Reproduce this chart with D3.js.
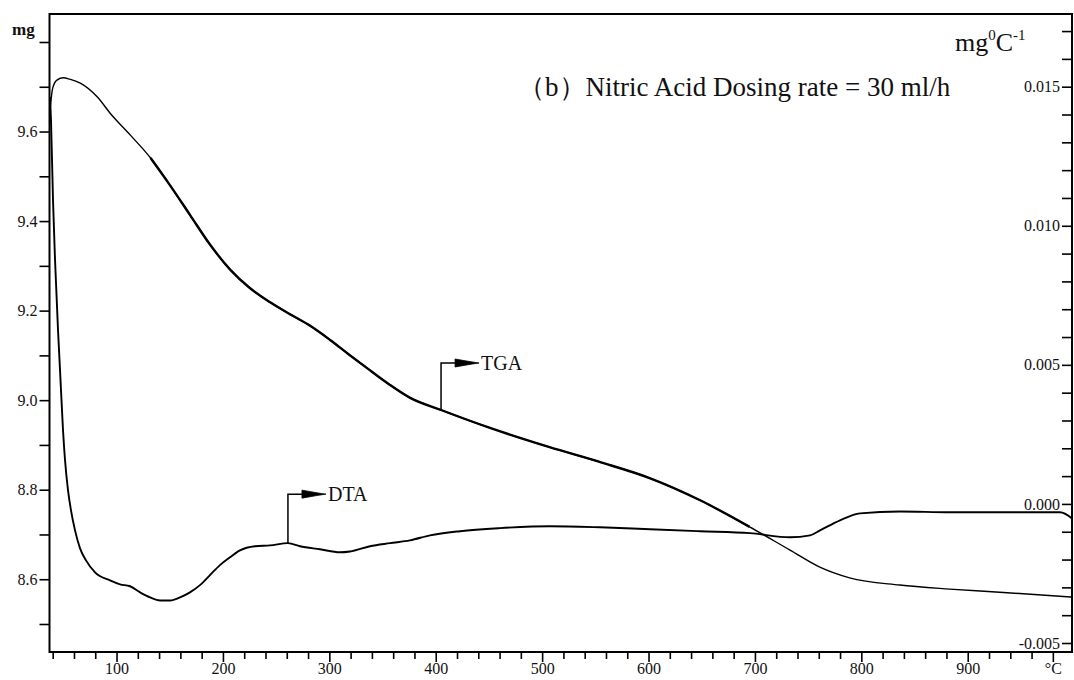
<!DOCTYPE html>
<html>
<head>
<meta charset="utf-8">
<script src="https://cdn.jsdelivr.net/npm/d3@7"></script>
<style>
  html, body { margin: 0; padding: 0; background: #fff; }
  svg { display: block; }
  text { font-family: "Liberation Serif", "Times New Roman", serif; fill: #111; }
</style>
</head>
<body>
<svg id="chart" width="1074" height="680"></svg>
<script>
// Thermogravimetric run: sample mass (TGA, mg) and differential signal (DTA, mg/°C)
const tgaTemp = [37.5, 40, 44, 50, 56, 66, 82, 94, 113, 132, 150, 169, 188, 207, 225, 244, 263, 282,
  301, 319, 338, 357, 376, 405, 451, 507, 554, 601, 648, 695, 733, 761, 789, 836, 883, 930, 998];
const tgaMass = [9.648, 9.697, 9.715, 9.720, 9.717, 9.708, 9.677, 9.641, 9.592, 9.541, 9.481, 9.414,
  9.347, 9.291, 9.251, 9.219, 9.192, 9.166, 9.134, 9.101, 9.067, 9.034, 9.005, 8.978, 8.938, 8.895,
  8.862, 8.826, 8.777, 8.717, 8.665, 8.627, 8.603, 8.587, 8.578, 8.571, 8.560];

const dtaTemp = [37.5, 38.4, 40.3, 42.2, 45.0, 46.9, 49.7, 51.6, 54.4, 57.2, 61.0, 65.7, 71.3, 79.8,
  93.9, 103.3, 112.7, 122.1, 131.5, 140.9, 150.3, 159.7, 169.0, 178.4, 187.8, 197.2, 206.6, 216.0,
  230.1, 244.2, 261.1, 272.4, 291.2, 310.0, 319.4, 338.2, 357.0, 375.8, 394.6, 422.8, 460.4, 507.4,
  554.4, 601.4, 648.4, 695.4, 733.0, 751.8, 761.2, 780.0, 798.8, 836.4, 883.4, 930.4, 986.8, 998];
const dtaSignal = [0.01463, 0.01380, 0.01092, 0.00877, 0.00625, 0.00481, 0.00265, 0.00157, 0.00049,
  -0.00023, -0.00095, -0.00160, -0.00203, -0.00246, -0.00275, -0.00289, -0.00296, -0.00318, -0.00336,
  -0.00347, -0.00347, -0.00336, -0.00318, -0.00292, -0.00256, -0.00220, -0.00192, -0.00167, -0.00152,
  -0.00149, -0.00141, -0.00152, -0.00163, -0.00174, -0.00171, -0.00152, -0.00141, -0.00131, -0.00113,
  -0.00098, -0.00087, -0.00080, -0.00084, -0.00091, -0.00098, -0.00105, -0.00120, -0.00113, -0.00095,
  -0.00059, -0.00034, -0.00027, -0.00030, -0.00030, -0.00030, -0.00052];

// Axis ticks
const tempTicks = d3.range(40, 981, 20);
const tempLabels = [100, 200, 300, 400, 500, 600, 700, 800, 900];
const tempUnit = "°C";
const massTicks = d3.range(85, 99, 1).map(v => v / 10);
const massLabels = [8.6, 8.8, 9.0, 9.2, 9.4, 9.6];
const dtaTicks = d3.range(-5, 18, 1).map(v => v / 1000);
const dtaLabels = [-0.005, 0.000, 0.005, 0.010, 0.015];

// Marker positions for the curve labels
const tgaMarkTemp = 405;
const dtaMarkTemp = 261.1;

const title = "（b）Nitric Acid Dosing rate = 30 ml/h";

const svg = d3.select("#chart");
const L = 49.5, R = 1072, T = 14, B = 652;

const x = d3.scaleLinear().domain([37, 998]).range([L, R]);
const yL = d3.scaleLinear().domain([8.5, 9.8]).range([624, 42]);
const yR = d3.scaleLinear().domain([-0.005, 0.015]).range([643, 86.7]);

const near = (a, b) => Math.abs(a - b) < 1e-9;
const tickFont = 16;

// frame
svg.append("rect")
  .attr("x", L).attr("y", T).attr("width", R - L).attr("height", B - T)
  .attr("fill", "none").attr("stroke", "#000").attr("stroke-width", 2);

// bottom axis
const gx = svg.append("g").attr("transform", `translate(0,${B})`)
  .call(d3.axisBottom(x).tickValues(tempTicks).tickSizeOuter(0).tickSize(9).tickPadding(2)
    .tickFormat(d => tempLabels.includes(d) ? String(d) : (d === 980 ? tempUnit : "")));
gx.select(".domain").remove();
gx.selectAll(".tick line").attr("stroke", "#000").attr("stroke-width", 1.6)
  .attr("y2", d => (tempLabels.includes(d) || d === 980) ? 10 : 7);
gx.selectAll(".tick text").attr("font-size", tickFont).attr("fill", "#111")
  .attr("font-family", "Liberation Serif, serif");

// left axis (mass)
const gl = svg.append("g").attr("transform", `translate(${L},0)`)
  .call(d3.axisLeft(yL).tickValues(massTicks).tickSizeOuter(0).tickSize(10).tickPadding(2)
    .tickFormat(d => massLabels.some(m => near(m, d)) ? d.toFixed(1) : ""));
gl.select(".domain").remove();
gl.selectAll(".tick line").attr("stroke", "#000").attr("stroke-width", 1.6);
gl.selectAll(".tick text").attr("font-size", tickFont).attr("fill", "#111")
  .attr("font-family", "Liberation Serif, serif");

// right axis (DTA), ticks and labels drawn inside the frame
const gr = svg.append("g").attr("transform", `translate(${R},0)`)
  .call(d3.axisLeft(yR).tickValues(dtaTicks).tickSizeOuter(0).tickSize(10).tickPadding(2)
    .tickFormat(d => dtaLabels.some(m => near(m, d)) ? d.toFixed(3) : ""));
gr.select(".domain").remove();
gr.selectAll(".tick line").attr("stroke", "#000").attr("stroke-width", 1.6);
gr.selectAll(".tick text").attr("font-size", tickFont).attr("fill", "#111")
  .attr("font-family", "Liberation Serif, serif");

// unit labels
svg.append("text").attr("x", 12).attr("y", 35)
  .attr("font-size", 17).attr("font-weight", "bold").text("mg");

const unit = svg.append("text").attr("x", 955).attr("y", 51).attr("font-size", 26);
unit.append("tspan").text("mg");
unit.append("tspan").attr("font-size", 15).attr("dy", -11).text("0");
unit.append("tspan").attr("dy", 11).text("C");
unit.append("tspan").attr("font-size", 15).attr("dy", -11).text("-1");

// title
svg.append("text").attr("x", 518).attr("y", 96).attr("font-size", 27)
  .attr("font-family", "Liberation Serif, 'Noto Sans CJK SC', serif").text(title);

// curves
const tgaData = tgaTemp.map((t, i) => [t, tgaMass[i]]);
const dtaData = dtaTemp.map((t, i) => [t, dtaSignal[i]]);
const tgaLine = d3.line().x(d => x(d[0])).y(d => yL(d[1])).curve(d3.curveMonotoneX);
const dtaLine = d3.line().x(d => x(d[0])).y(d => yR(d[1])).curve(d3.curveMonotoneX);

svg.append("path").datum(dtaData)
  .attr("fill", "none").attr("stroke", "#000").attr("stroke-width", 1.9)
  .attr("d", dtaLine);

// TGA: thin overall, heavier through the main loss region
svg.append("path").datum(tgaData)
  .attr("fill", "none").attr("stroke", "#000").attr("stroke-width", 1.4)
  .attr("d", tgaLine);
svg.append("path").datum(tgaData.filter(d => d[0] >= 130 && d[0] <= 700))
  .attr("fill", "none").attr("stroke", "#000").attr("stroke-width", 2.4)
  .attr("d", tgaLine);

// curve labels with leader and arrow
function marker(px, py, rise, label) {
  const ty = py - rise;
  const g = svg.append("g");
  g.append("path").attr("d", `M${px},${py}V${ty}H${px + 14}`)
    .attr("fill", "none").attr("stroke", "#000").attr("stroke-width", 1.5);
  const ax = px + 14;
  g.append("path")
    .attr("d", `M${ax},${ty - 4}L${ax + 16},${ty - 1.2}L${ax + 24},${ty}L${ax + 16},${ty + 1.2}L${ax},${ty + 4}Z`)
    .attr("fill", "#000").attr("stroke", "#000").attr("stroke-width", 0.8);
  g.append("text").attr("x", ax + 26).attr("y", ty + 7).attr("font-size", 20).text(label);
}

const tgaAt = d3.scaleLinear().domain(tgaTemp).range(tgaMass);
const dtaAt = d3.scaleLinear().domain(dtaTemp).range(dtaSignal);
marker(x(tgaMarkTemp), yL(tgaAt(tgaMarkTemp)), 47, "TGA");
marker(x(dtaMarkTemp), yR(dtaAt(dtaMarkTemp)), 49, "DTA");
</script>
</body>
</html>
